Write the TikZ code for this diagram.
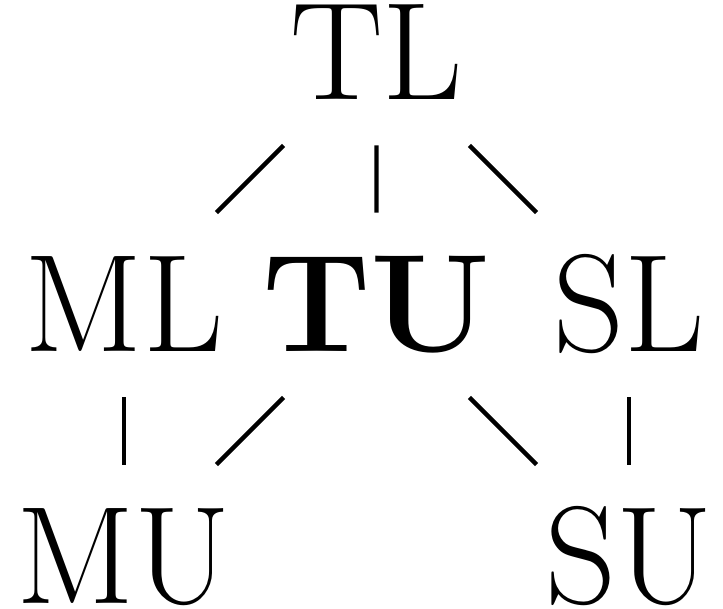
\documentclass[tikz,border=0pt]{standalone}
\usetikzlibrary{calc}
\tikzset{
  lbl/.style={inner sep=0pt, anchor=base, text height=94.5pt, text depth=0pt,
    font=\fontsize{139}{139}\selectfont},
  link/.style={line width=4.4pt, black}
}
% draw a shortened connector between two node centres
\newcommand\joinnodes[2]{\draw[link] ($(#1.center)!0.368!(#2.center)$) -- ($(#1.center)!0.634!(#2.center)$);}
\begin{document}
\begin{tikzpicture}[x=1pt,y=1pt]
  \useasboundingbox (0,0) rectangle (723,609);
  \node[lbl] (TL) at (376.5,509) {TL};
  \node[lbl] (ML) at (124,257) {ML};
  \node[lbl] (TU) at (376.5,257) {\bfseries TU};
  \node[lbl] (SL) at (629,257) {SL};
  \node[lbl] (MU) at (124,5) {MU};
  \node[lbl] (SU) at (629,5) {SU};
  \joinnodes{TL}{ML}
  \joinnodes{TL}{TU}
  \joinnodes{TL}{SL}
  \joinnodes{ML}{MU}
  \joinnodes{TU}{MU}
  \joinnodes{TU}{SU}
  \joinnodes{SL}{SU}
\end{tikzpicture}
\end{document}
